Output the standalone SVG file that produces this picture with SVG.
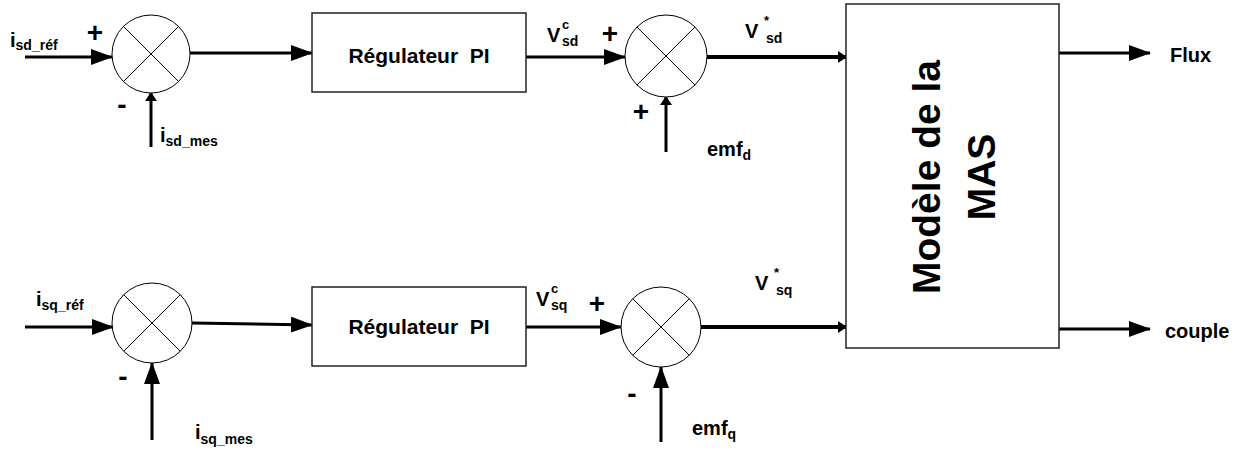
<svg xmlns="http://www.w3.org/2000/svg" width="1255" height="455" viewBox="0 0 1255 455">
<style>
text{font-family:"Liberation Sans",Arial,sans-serif;font-weight:bold;fill:#000}
.box{fill:#fff;stroke:#222;stroke-width:1.5}
.sum{fill:#fff;stroke:#000;stroke-width:1}
.x{stroke:#000;stroke-width:1}
.w{stroke:#000;stroke-width:3;fill:none}
.t{stroke:#000;stroke-width:4;fill:none}
.lab{font-size:20px}
.sub{font-size:14px}
.sup{font-size:13px}
.sg{font-size:28px}
.blk{font-size:21px;white-space:pre}
.big{font-size:39px}
</style>
<defs>
<marker id="ah" markerUnits="userSpaceOnUse" markerWidth="22" markerHeight="16" viewBox="0 0 22 16" refX="21" refY="8" orient="auto"><path d="M0,0 L22,8 L0,16 z" fill="#000"/></marker>
<marker id="as" markerUnits="userSpaceOnUse" markerWidth="9" markerHeight="12" viewBox="0 0 9 12" refX="8" refY="6" orient="auto"><path d="M0,0 L9,6 L0,12 z" fill="#000"/></marker>
</defs>

<g id="connectors">
<line class="w" x1="25" y1="57" x2="112" y2="57" marker-end="url(#ah)"/>
<line class="w" x1="151" y1="147" x2="151" y2="93" marker-end="url(#as)"/>
<line class="w" x1="190" y1="53" x2="312" y2="53" marker-end="url(#ah)"/>
<line class="w" x1="526" y1="57" x2="625" y2="57" marker-end="url(#ah)"/>
<line class="w" x1="666" y1="152" x2="666" y2="97" marker-end="url(#as)"/>
<line class="t" x1="707" y1="57" x2="846" y2="57" marker-end="url(#as)"/>
<line class="w" x1="25" y1="327" x2="113" y2="327" marker-end="url(#ah)"/>
<line class="w" x1="152" y1="440" x2="152" y2="363" marker-end="url(#ah)"/>
<line class="w" x1="192" y1="323" x2="312" y2="325" marker-end="url(#ah)"/>
<line class="w" x1="526" y1="327" x2="621" y2="327" marker-end="url(#ah)"/>
<line class="w" x1="661" y1="442" x2="661" y2="367" marker-end="url(#ah)"/>
<line class="t" x1="701" y1="327" x2="846" y2="327" marker-end="url(#as)"/>
<line class="w" x1="1059" y1="53" x2="1150" y2="53" marker-end="url(#ah)"/>
<line class="w" x1="1059" y1="329" x2="1150" y2="329" marker-end="url(#ah)"/>
</g>

<g id="sum1">
<circle class="sum" cx="151" cy="54" r="39"/>
<line class="x" x1="123.4" y1="26.4" x2="178.6" y2="81.6"/>
<line class="x" x1="178.6" y1="26.4" x2="123.4" y2="81.6"/>
</g>
<g id="sum2">
<circle class="sum" cx="666" cy="56" r="41"/>
<line class="x" x1="637" y1="27" x2="695" y2="85"/>
<line class="x" x1="695" y1="27" x2="637" y2="85"/>
</g>
<g id="sum3">
<circle class="sum" cx="152" cy="323" r="40"/>
<line class="x" x1="123.7" y1="294.7" x2="180.3" y2="351.3"/>
<line class="x" x1="180.3" y1="294.7" x2="123.7" y2="351.3"/>
</g>
<g id="sum4">
<circle class="sum" cx="661" cy="327" r="40"/>
<line class="x" x1="632.7" y1="298.7" x2="689.3" y2="355.3"/>
<line class="x" x1="689.3" y1="298.7" x2="632.7" y2="355.3"/>
</g>

<g id="pi1">
<rect class="box" x="312" y="13" width="214" height="79"/>
<text class="blk" x="419" y="63" text-anchor="middle" xml:space="preserve">Régulateur  PI</text>
</g>
<g id="pi2">
<rect class="box" x="312" y="287" width="214" height="79"/>
<text class="blk" x="419" y="334" text-anchor="middle" xml:space="preserve">Régulateur  PI</text>
</g>
<g id="mas">
<rect class="box" x="846" y="4" width="213" height="344"/>
<text class="big" transform="translate(940,177) rotate(-90)" text-anchor="middle">Modèle de la</text>
<text class="big" transform="translate(995,177) rotate(-90)" text-anchor="middle">MAS</text>
</g>

<g id="labels">
<text class="lab" x="10" y="47">i<tspan class="sub" dy="3">sd_réf</tspan></text>
<text class="sg" x="95" y="42" text-anchor="middle">+</text>
<text class="sg" x="122" y="114" text-anchor="middle">-</text>
<text class="lab" x="160" y="142">i<tspan class="sub" dy="4">sd_mes</tspan></text>
<text class="lab" x="547" y="42">V</text>
<text class="sup" x="562" y="29">c</text>
<text class="sub" x="562" y="46">sd</text>
<text class="sg" x="610" y="43" text-anchor="middle">+</text>
<text class="sg" x="641" y="121" text-anchor="middle">+</text>
<text class="lab" x="707" y="156">emf<tspan class="sub" dy="4">d</tspan></text>
<text class="lab" x="745" y="38">V</text>
<text class="sup" x="764" y="25">*</text>
<text class="sub" x="766" y="43">sd</text>

<text class="lab" x="36" y="306">i<tspan class="sub" dy="4">sq_réf</tspan></text>
<text class="sg" x="123" y="386" text-anchor="middle">-</text>
<text class="lab" x="195" y="439">i<tspan class="sub" dy="5">sq_mes</tspan></text>
<text class="lab" x="536" y="306">V</text>
<text class="sup" x="551" y="293">c</text>
<text class="sub" x="551" y="310">sq</text>
<text class="sg" x="597" y="313" text-anchor="middle">+</text>
<text class="sg" x="632" y="403" text-anchor="middle">-</text>
<text class="lab" x="692" y="435">emf<tspan class="sub" dy="4">q</tspan></text>
<text class="lab" x="755" y="290">V</text>
<text class="sup" x="774" y="277">*</text>
<text class="sub" x="776" y="295">sq</text>

<text class="lab" x="1170" y="62">Flux</text>
<text class="lab" x="1165" y="338">couple</text>
</g>
</svg>
